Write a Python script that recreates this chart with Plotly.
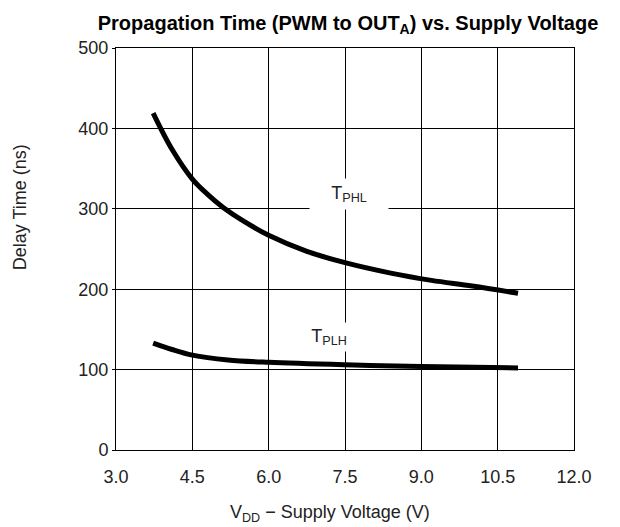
import plotly.graph_objects as go

phl_x = [3.73, 4.1, 4.5, 4.8, 5.1, 5.5, 6.0, 6.75, 7.5, 8.4, 9.2, 10.0, 10.9]
phl_y = [419, 374, 337, 318, 302, 285, 267, 247, 233, 220, 211, 204, 195]
plh_x = [3.73, 4.1, 4.5, 5.2, 6.0, 7.5, 9.0, 10.9]
plh_y = [133, 125, 118, 112, 109, 106, 104, 102]
x_ticks = [3.0, 4.5, 6.0, 7.5, 9.0, 10.5, 12.0]
y_ticks = [0, 100, 200, 300, 400, 500]

FONT = "Liberation Sans, Arial, sans-serif"
fig = go.Figure()
fig.add_trace(go.Scatter(x=phl_x, y=phl_y, mode="lines",
                         line=dict(color="black", width=5, shape="spline"), showlegend=False))
fig.add_trace(go.Scatter(x=plh_x, y=plh_y, mode="lines",
                         line=dict(color="black", width=5, shape="spline"), showlegend=False))

fig.add_annotation(x=7.58, y=318, text="T<sub>PHL</sub>", showarrow=False,
                   font=dict(family=FONT, size=18, color="#222"), bgcolor="white",
                   width=78, height=30, borderpad=0)
fig.add_annotation(x=7.19, y=140, text="T<sub>PLH</sub>", showarrow=False,
                   font=dict(family=FONT, size=18, color="#222"), bgcolor="white",
                   width=50, height=28, borderpad=0)

# axis titles
fig.add_annotation(xref="paper", yref="paper", x=0.467, y=-0.157,
                   text="V<sub>DD</sub> − Supply Voltage (V)", showarrow=False,
                   font=dict(family=FONT, size=18, color="#222"), yanchor="middle")
fig.add_annotation(xref="paper", yref="paper", x=-0.2096, y=0.604,
                   text="Delay Time (ns)", showarrow=False, textangle=-90,
                   font=dict(family=FONT, size=18, color="#222"), xanchor="center", yanchor="middle")

fig.update_layout(
    width=612, height=519,
    margin=dict(l=108, r=46, t=40, b=77),
    paper_bgcolor="white", plot_bgcolor="white",
    font=dict(family=FONT, color="#222", size=18),
    title=dict(text="<b>Propagation Time (PWM to OUT<sub>A</sub>) vs. Supply Voltage</b>",
               x=0.5556, xanchor="center", y=0.971, yanchor="middle",
               font=dict(family=FONT, size=20, color="black")),
    xaxis=dict(range=[3, 12], tickvals=x_ticks, ticktext=[f"{v:.1f}" for v in x_ticks],
               showgrid=True, gridcolor="black", gridwidth=1, zeroline=False,
               showline=True, linecolor="black", linewidth=1, mirror=True,
               ticks="", ticklabelstandoff=10, tickfont=dict(size=18)),
    yaxis=dict(range=[0, 500], tickvals=y_ticks,
               showgrid=True, gridcolor="black", gridwidth=1, zeroline=False,
               showline=True, linecolor="black", linewidth=1, mirror=True,
               ticks="outside", ticklen=3, tickcolor="black", tickfont=dict(size=18)),
)
fig.write_html("out.html")
